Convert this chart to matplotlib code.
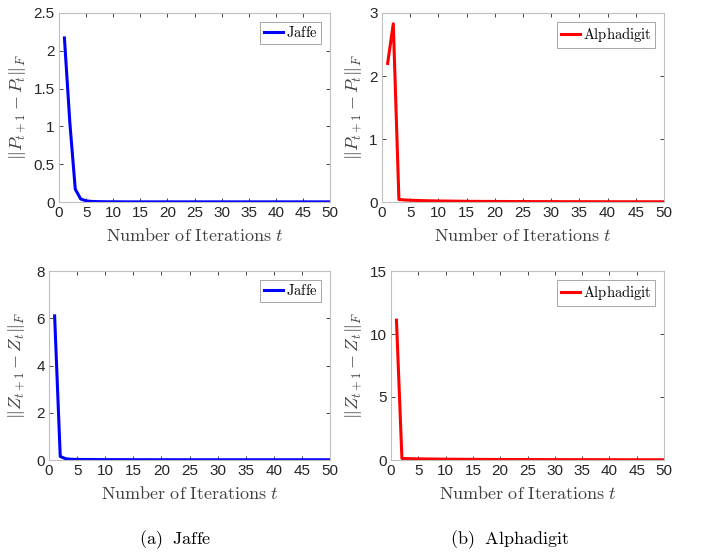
import matplotlib
matplotlib.use("Agg")
import matplotlib.pyplot as plt

plt.rcParams['font.family'] = ['Liberation Sans', 'DejaVu Sans']
plt.rcParams['mathtext.fontset'] = 'cm'

# ---------- data ----------
iters = list(range(1, 51))

jaffe_p = [2.17, 1.05, 0.17, 0.04, 0.015, 0.008, 0.005, 0.004, 0.003, 0.003,
           0.003, 0.002, 0.002, 0.002, 0.002, 0.002, 0.002, 0.002, 0.002, 0.002,
           0.002, 0.002, 0.002, 0.002, 0.002, 0.002, 0.002, 0.002, 0.002, 0.002,
           0.002, 0.002, 0.002, 0.002, 0.002, 0.002, 0.002, 0.002, 0.002, 0.002,
           0.002, 0.002, 0.002, 0.002, 0.002, 0.002, 0.002, 0.002, 0.002, 0.002]

alpha_p = [2.20, 2.83, 0.040, 0.032, 0.028, 0.025, 0.022, 0.020, 0.018, 0.016,
           0.015, 0.014, 0.013, 0.012, 0.011, 0.010, 0.010, 0.009, 0.009, 0.008,
           0.008, 0.008, 0.007, 0.007, 0.007, 0.007, 0.006, 0.006, 0.006, 0.006,
           0.006, 0.005, 0.005, 0.005, 0.005, 0.005, 0.005, 0.005, 0.004, 0.004,
           0.004, 0.004, 0.004, 0.004, 0.004, 0.004, 0.004, 0.004, 0.004, 0.004]

jaffe_z = [6.10, 0.15, 0.05, 0.03, 0.025, 0.022, 0.020, 0.018, 0.017, 0.016,
           0.015, 0.015, 0.014, 0.014, 0.013, 0.013, 0.013, 0.012, 0.012, 0.012,
           0.012, 0.011, 0.011, 0.011, 0.011, 0.011, 0.010, 0.010, 0.010, 0.010,
           0.010, 0.010, 0.010, 0.010, 0.010, 0.010, 0.010, 0.010, 0.010, 0.010,
           0.010, 0.010, 0.010, 0.010, 0.010, 0.010, 0.010, 0.010, 0.010, 0.010]

alpha_z = [11.10, 0.12, 0.11, 0.10, 0.09, 0.085, 0.08, 0.075, 0.07, 0.065,
           0.06, 0.058, 0.055, 0.052, 0.05, 0.048, 0.046, 0.044, 0.042, 0.040,
           0.039, 0.038, 0.037, 0.036, 0.035, 0.034, 0.033, 0.032, 0.031, 0.030,
           0.030, 0.029, 0.028, 0.028, 0.027, 0.026, 0.026, 0.025, 0.025, 0.024,
           0.024, 0.023, 0.023, 0.022, 0.022, 0.022, 0.021, 0.021, 0.020, 0.020]

y_ticks = {
    "tl": [0, 0.5, 1, 1.5, 2, 2.5],
    "tr": [0, 1, 2, 3],
    "bl": [0, 2, 4, 6, 8],
    "br": [0, 5, 10, 15],
}
y_tick_labels = {
    "tl": ["0", "0.5", "1", "1.5", "2", "2.5"],
    "tr": ["0", "1", "2", "3"],
    "bl": ["0", "2", "4", "6", "8"],
    "br": ["0", "5", "10", "15"],
}
x_ticks = list(range(0, 51, 5))

W, H = 701, 552
fig = plt.figure(figsize=(W / 100, H / 100), dpi=100)


def px_axes(left, right, top, bottom):
    return fig.add_axes([left / W, 1 - bottom / H, (right - left) / W, (bottom - top) / H])


panels = [
    # key, pixel box, data, colour, legend, ylabel, ylabel x offset
    ("tl", (59, 330, 13, 202), jaffe_p, "#0000ff", "Jaffe", r"$\|P_{t+1}-P_t\|_F$", -0.114),
    ("tr", (382, 664, 13, 202), alpha_p, "#ff0000", "Alphadigit", r"$\|P_{t+1}-P_t\|_F$", -0.064),
    ("bl", (49, 330, 271, 460), jaffe_z, "#0000ff", "Jaffe", r"$\|Z_{t+1}-Z_t\|_F$", -0.078),
    ("br", (391, 664, 271, 460), alpha_z, "#ff0000", "Alphadigit", r"$\|Z_{t+1}-Z_t\|_F$", -0.099),
]

edge = "#262626"
for key, box, vals, color, name, ylab, yl_x in panels:
    ax = px_axes(*box)
    ax.plot(iters, vals, color=color, lw=2.2, label=r"$\mathrm{" + name + "}$")
    ax.set_xlim(0, 50)
    ax.set_ylim(y_ticks[key][0], y_ticks[key][-1])
    ax.set_xticks(x_ticks)
    ax.set_yticks(y_ticks[key])
    ax.set_yticklabels(y_tick_labels[key])
    ax.tick_params(direction="in", top=True, right=True, length=3, width=0.6,
                   colors=edge, labelsize=11, pad=3, labelcolor=edge)
    for s in ax.spines.values():
        s.set_color("#bfbfbf")
        s.set_linewidth(0.8)
    ax.set_xlabel(r"$\mathrm{Number\ of\ Iterations}\ t$", fontsize=13, color="#404040")
    ax.xaxis.set_label_coords(0.5, -0.135)
    ax.set_ylabel(ylab, fontsize=13, color="#404040")
    ax.yaxis.set_label_coords(yl_x, 0.5)
    leg = ax.legend(loc="upper right", fontsize=10.5, handlelength=1.3, handletextpad=0.2,
                    borderpad=0.25, borderaxespad=0.6, fancybox=False, framealpha=1)
    leg.get_frame().set_edgecolor("#999999")
    leg.get_frame().set_linewidth(0.6)

fig.text(175 / W, 1 - 540 / H, r"$\mathrm{(a)\ \ Jaffe}$", fontsize=13, ha="center", va="center")
fig.text(510 / W, 1 - 540 / H, r"$\mathrm{(b)\ \ Alphadigit}$", fontsize=13, ha="center", va="center")

fig.savefig("out.png", dpi=100)
